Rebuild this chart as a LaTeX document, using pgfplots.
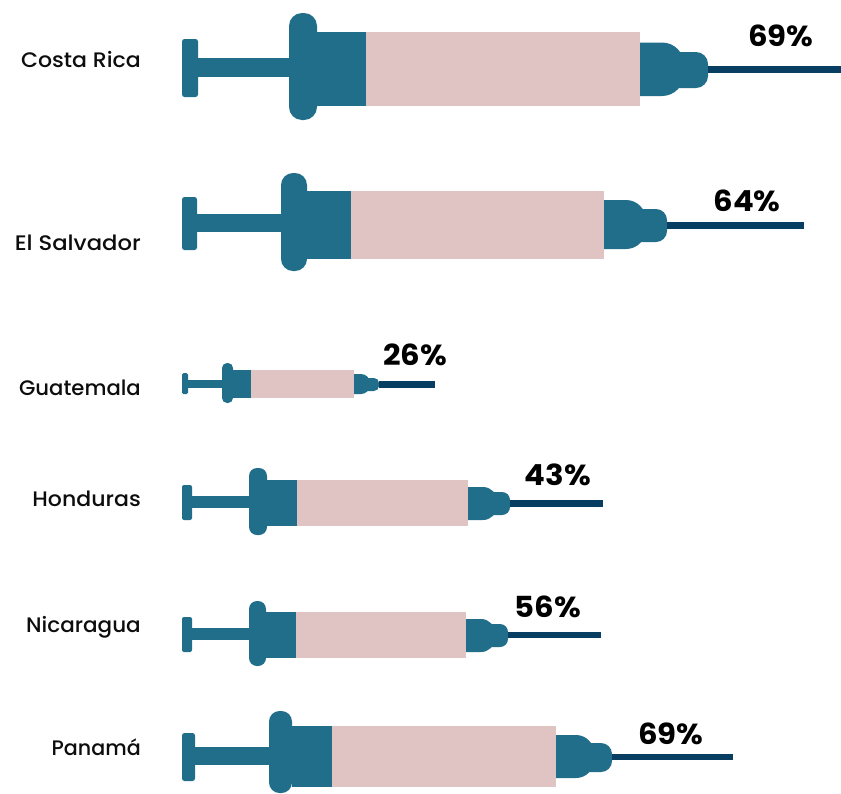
\documentclass[border=0pt]{standalone}
\usepackage{pgfplots}
\usepackage{fontspec}
\usepackage{graphicx}
\pgfplotsset{compat=1.18}
\setmainfont{Poppins}
\newfontfamily\namefont[FakeStretch=1.05]{Poppins Medium}
\newfontfamily\valuefont[FakeStretch=1.06]{Poppins Bold}
\definecolor{body}{RGB}{33,110,139}
\definecolor{needle}{RGB}{8,62,98}
\definecolor{liquid}{RGB}{224,196,196}

% x positions: handle right, flange left, flange right, barrel right,
% liquid right, hub right, tip right, needle right
\newcommand\setx[8]{\def\xa{#1}\def\xb{#2}\def\xc{#3}\def\xd{#4}\def\xe{#5}\def\xf{#6}\def\xg{#7}\def\xh{#8}}
% y positions: handle, rod, flange, flange middle
\newcommand\sety[7]{\def\ya{#1}\def\yb{#2}\def\yc{#3}\def\yd{#4}\def\ye{#5}\def\yf{#6}\def\ym{#7}}
% y positions: barrel, hub, tip, needle
\newcommand\setz[8]{\def\za{#1}\def\zb{#2}\def\zc{#3}\def\zd{#4}\def\ze{#5}\def\zf{#6}\def\zg{#7}\def\zh{#8}}
% corner radii: handle, flange, hub, tip; overlap of tip on hub
\newcommand\syringe[5]{%
  \addplot[fill=body,draw=none,rounded corners=#1pt] coordinates {(182,\ym) (182,\ya) (\xa,\ya) (\xa,\yb) (182,\yb) (182,\ym)};
  \addplot[fill=body,draw=none] coordinates {(\xa,\yc) (\xb,\yc) (\xb,\yd) (\xa,\yd)};
  \addplot[fill=body,draw=none,rounded corners=#2pt] coordinates {(\xb,\ym) (\xb,\ye) (\xc,\ye) (\xc,\yf) (\xb,\yf) (\xb,\ym)};
  \addplot[fill=body,draw=none] coordinates {(\xc,\za) (\xd,\za) (\xd,\zb) (\xc,\zb)};
  \addplot[fill=liquid,draw=none] coordinates {(\xd,\za) (\xe,\za) (\xe,\zb) (\xd,\zb)};
  \addplot[fill=body,draw=none,rounded corners=#3pt] coordinates {(\xe,\zc) (\xf,\zc) (\xf,\zd) (\xe,\zd)};
  \addplot[fill=body,draw=none,rounded corners=#4pt] coordinates {(\xe+#5,\ze) (\xg,\ze) (\xg,\zf) (\xe+#5,\zf)};
  \addplot[fill=needle,draw=none] coordinates {(\xg,\zg) (\xh,\zg) (\xh,\zh) (\xg,\zh)};
}

\begin{document}
\begin{tikzpicture}
\begin{axis}[
  width=841pt, height=793pt, scale only axis,
  xmin=0, xmax=841, ymin=0, ymax=793, y dir=reverse,
  xtick=\empty, ytick=\empty, axis line style={draw=none},
  clip=false]

% Costa Rica
\setx{198}{289}{317}{366}{640}{684}{708}{841}
\sety{39}{97}{58}{77}{13}{120}{67}
\setz{32}{105.5}{42.5}{96}{52}{88}{66}{72.5}
\syringe{2.5}{13}{22}{12}{30}
% El Salvador
\setx{197}{281}{307}{351}{604}{646}{667}{804}
\sety{197}{250}{214}{232}{173}{271}{222}
\setz{191}{259}{200}{249}{209}{242}{221.5}{228.5}
\syringe{2.5}{12}{20}{11}{30}
% Guatemala
\setx{188}{222}{233}{251}{354}{370}{379}{435}
\sety{373}{394}{380}{388}{363}{403}{384}
\setz{370}{398}{374}{394}{378}{391}{381}{388}
\syringe{1.5}{5}{9}{5}{12}
% Honduras
\setx{192}{249}{267}{297}{468}{497}{510}{603}
\sety{485}{520}{496}{508}{468}{535}{502}
\setz{480}{526}{487}{520}{492}{515}{500}{507}
\syringe{2}{8}{14}{8}{20}
% Nicaragua
\setx{192}{249}{266}{296}{466}{495}{508}{601}
\sety{617}{652}{628}{640}{601}{666}{634}
\setz{612}{658}{619}{652}{624}{647}{632}{638}
\syringe{2}{8}{14}{8}{20}
% Panamá
\setx{195}{269}{292}{332}{556}{594}{612}{733}
\sety{733}{781}{747}{765}{711}{793}{752}
\setz{726}{787}{735}{778}{743}{772}{754}{760}
\syringe{2.5}{10.5}{18}{11}{26}

% Country names, right-aligned at a common edge
\foreach \name/\y/\s in {Costa Rica/67/1,El Salvador/250/1.03,Guatemala/395/0.96,Honduras/506/1,Nicaragua/632/0.975,Panamá/755/0.937}{
  \edef\temp{\noexpand\node[anchor=base east,inner sep=0pt,font=\noexpand\fontsize{21}{24}\noexpand\namefont,text=black!95] at (axis cs:141,\y) {\noexpand\scalebox{\s}[1]{\name}};}
  \temp
}
% Percentages
\foreach \val/\x/\y in {69/781/46,64/747/211,26/415/365,43/558/485,56/548/617,69/671/744}{
  \edef\temp{\noexpand\node[anchor=base,inner sep=0pt,font=\noexpand\fontsize{29}{32}\noexpand\valuefont,text=black] at (axis cs:\x,\y) {\val\noexpand\%};}
  \temp
}
\end{axis}
\end{tikzpicture}
\end{document}
